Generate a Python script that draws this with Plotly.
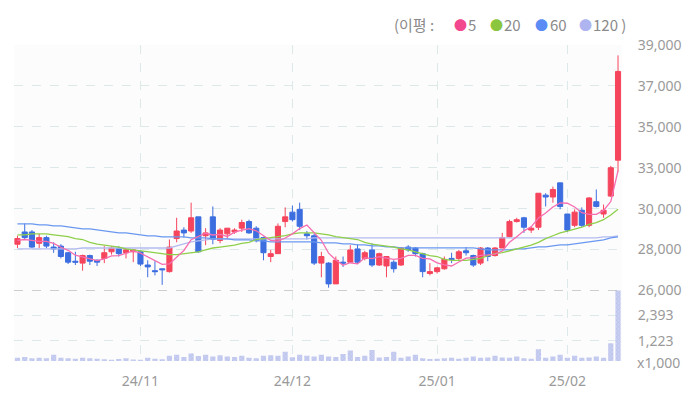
import plotly.graph_objects as go

# ---------------- data ----------------
idx = list(range(84))

opens = [28450, 29100, 29100, 28500, 28800, 28300, 28350, 28000, 27550, 27450,
         27850, 27600, 27700, 28050, 28250, 28000, 28050, 28050, 27350, 27050,
         27150, 27000, 28750, 29200, 29150, 29900, 28900, 29900, 28650, 29000,
         29100, 29300, 29650, 29300, 28800, 27800, 27950, 29650, 30150, 30300,
         29000, 28900, 27450, 27450, 26350, 27500, 27500, 28200, 27700, 28150,
         27350, 27300, 27500, 27350, 28300, 28250, 27950, 26900, 27000, 27150,
         27700, 27700, 28100, 27850, 27450, 28250, 27850, 28250, 28850, 29650,
         29850, 29200, 29350, 31050, 30950, 31700, 30050, 29450, 30250, 29450,
         30700, 30050, 31000, 32900]

highs = [28900, 29550, 29200, 29000, 28900, 28550, 28450, 28050, 28050, 27900,
         27900, 27650, 28350, 28350, 28350, 28250, 28200, 28100, 27600, 27550,
         27150, 28700, 29850, 29350, 30650, 29900, 29300, 30450, 29300, 29300,
         29300, 29750, 29750, 29400, 28850, 28150, 29550, 30400, 30500, 30650,
         29150, 29000, 28050, 27500, 27800, 27800, 28400, 28450, 28100, 28500,
         28000, 27800, 27600, 28300, 28400, 28300, 28000, 27450, 27250, 27800,
         28000, 28150, 28300, 27900, 28300, 28300, 28300, 29050, 29750, 29850,
         29900, 29400, 31150, 31150, 31500, 31700, 30050, 30300, 30400, 30950,
         31350, 30550, 32600, 38450]

lows = [28250, 28700, 28250, 28250, 28250, 28000, 27700, 27400, 27350, 27050,
        27350, 27300, 27450, 27900, 27800, 27700, 27500, 27300, 26700, 26800,
        26300, 26950, 28550, 28800, 29050, 28000, 28400, 28450, 28500, 28700,
        29000, 29100, 29000, 28550, 27600, 27500, 27950, 29350, 29650, 29200,
        28700, 27350, 26700, 26150, 26350, 27250, 27450, 27400, 27600, 27250,
        27300, 26700, 26950, 27300, 28050, 27800, 26700, 26800, 26900, 27100,
        27450, 27600, 27850, 27250, 27350, 27550, 27800, 28250, 28800, 29600,
        29050, 29050, 29200, 30450, 30650, 30300, 29100, 29350, 29350, 29350,
        30400, 29850, 30950, 32300]

closes = [28750, 28800, 28300, 28800, 28350, 28200, 27800, 27500, 27500, 27850,
          27550, 27500, 28000, 28250, 27950, 28150, 28150, 27400, 27250, 27000,
          27100, 28300, 29150, 29050, 29850, 28050, 29050, 28700, 29200, 29300,
          29200, 29600, 29050, 28650, 28000, 27950, 29400, 29900, 29750, 29400,
          28900, 27450, 27800, 26350, 27600, 27450, 28150, 27500, 28000, 27350,
          27950, 27800, 27150, 28250, 28150, 27950, 27000, 27000, 27200, 27650,
          27650, 28050, 28000, 27350, 28250, 27800, 28250, 28800, 29650, 29750,
          29350, 29300, 31150, 30950, 31350, 30450, 29200, 30150, 29450, 30900,
          30450, 30250, 32500, 37600]

volumes = [420, 460, 400, 420, 400, 560, 420, 400, 380, 420,
           400, 380, 350, 330, 360, 400, 340, 330, 420, 380,
           350, 520, 560, 460, 620, 500, 560, 480, 540, 480,
           460, 520, 420, 400, 520, 540, 520, 700, 450, 560,
           520, 480, 560, 480, 460, 600, 760, 460, 520, 780,
           440, 460, 700, 420, 480, 560, 400, 360, 380, 400,
           420, 380, 420, 480, 420, 440, 520, 440, 420, 480,
           400, 380, 820, 420, 480, 560, 420, 520, 420, 440,
           480, 420, 1100, 26000]

ma5 = [28650, 28700, 28650, 28600, 28600, 28490, 28290, 28130, 27870, 27770,
       27640, 27580, 27680, 27830, 27850, 27970, 28100, 27980, 27780, 27590,
       27380, 27410, 27760, 28120, 28690, 28880, 29030, 28940, 28970, 28860,
       29090, 29200, 29270, 29160, 28900, 28650, 28610, 28780, 29000, 29280,
       29470, 29080, 28660, 27980, 27620, 27330, 27470, 27410, 27740, 27690,
       27790, 27720, 27650, 27700, 27860, 27860, 27700, 27670, 27460, 27360,
       27300, 27510, 27710, 27740, 27860, 27890, 27930, 28090, 28550, 28850,
       29160, 29370, 29840, 30100, 30420, 30640, 30620, 30420, 30120, 30030,
       30030, 30240, 30710, 32340]

ma20 = [28950, 28950, 29000, 29000, 29000, 28950, 28900, 28850, 28750, 28700,
        28550, 28450, 28400, 28350, 28300, 28200, 28150, 28100, 28050, 28000,
        27950, 27900, 27900, 27950, 28000, 28050, 28150, 28250, 28300, 28350,
        28400, 28500, 28550, 28700, 28750, 28800, 28850, 28900, 29000, 29050,
        29050, 29050, 29000, 28950, 28850, 28800, 28750, 28700, 28550, 28450,
        28400, 28350, 28300, 28200, 28150, 28050, 27950, 27850, 27800, 27650,
        27600, 27600, 27600, 27650, 27700, 27850, 27950, 28000, 28100, 28200,
        28300, 28400, 28550, 28750, 28900, 29050, 29150, 29250, 29350, 29500,
        29600, 29750, 30000, 30300]

ma60 = [29530, 29530, 29530, 29480, 29480, 29420, 29420, 29370, 29320, 29260,
        29260, 29210, 29160, 29100, 29050, 29050, 29000, 28950, 28890, 28890,
        28840, 28840, 28840, 28840, 28790, 28790, 28790, 28730, 28730, 28730,
        28680, 28680, 28680, 28630, 28630, 28570, 28570, 28570, 28570, 28570,
        28570, 28570, 28520, 28520, 28520, 28470, 28470, 28420, 28420, 28360,
        28360, 28310, 28310, 28260, 28260, 28260, 28260, 28260, 28260, 28260,
        28260, 28260, 28260, 28260, 28200, 28150, 28150, 28150, 28150, 28200,
        28200, 28260, 28310, 28310, 28360, 28420, 28420, 28470, 28520, 28570,
        28630, 28680, 28790, 28840]

ma120 = [28200, 28200, 28200, 28200, 28200, 28200, 28200, 28200, 28200, 28250,
         28250, 28250, 28250, 28250, 28250, 28250, 28250, 28250, 28250, 28250,
         28250, 28250, 28360, 28470, 28570, 28630, 28680, 28730, 28730, 28730,
         28730, 28730, 28730, 28730, 28730, 28730, 28730, 28730, 28730, 28730,
         28730, 28790, 28790, 28790, 28790, 28790, 28790, 28790, 28790, 28790,
         28790, 28790, 28790, 28790, 28790, 28790, 28790, 28790, 28790, 28790,
         28790, 28790, 28790, 28790, 28790, 28790, 28790, 28790, 28790, 28790,
         28790, 28790, 28790, 28790, 28790, 28790, 28790, 28790, 28790, 28790,
         28790, 28840, 28840, 28890]

month_tick_idx = [17, 38, 58, 76]
month_labels = ["24/11", "24/12", "25/01", "25/02"]

price_tick_vals = [26000, 28166.7, 30333.3, 32500, 34666.7, 36833.3, 39000]
price_tick_text = ["26,000", "28,000", "30,000", "33,000", "35,000", "37,000", "39,000"]

vol_tick_vals = [1223, 2393]
vol_tick_text = ["1,223", "2,393"]

# ---------------- styling ----------------
RED = "#f5455c"
BLUE = "#3c6ee0"
C5, C20, C60, C120 = "#f66db0", "#8fcf4a", "#6a98f0", "#b3baf0"
GRID = "#dde8e8"
TXT = "#9a9a9a"
FONT = "Noto Sans, Noto Sans CJK KR, sans-serif"

W, H = 700, 393
L, R, T, B = 14, 78, 45, 32
PW, PH = W - L - R, H - T - B
split = (H - B - 290.5) / PH


def px(x):
    return (x - L) / PW


def py(y):
    return (H - B - y) / PH


fig = go.Figure()

for ma, col in [(ma120, C120), (ma60, C60), (ma20, C20), (ma5, C5)]:
    fig.add_trace(go.Scatter(x=idx, y=ma, mode="lines", line=dict(color=col, width=1.3),
                             xaxis="x", yaxis="y", hoverinfo="skip"))

fig.add_trace(go.Candlestick(
    x=idx, open=opens, high=highs, low=lows, close=closes,
    increasing=dict(line=dict(color=RED, width=1), fillcolor=RED),
    decreasing=dict(line=dict(color=BLUE, width=1), fillcolor=BLUE),
    whiskerwidth=0, xaxis="x", yaxis="y"))

fig.add_trace(go.Bar(
    x=idx, y=volumes, xaxis="x", yaxis="y2", width=0.72,
    marker=dict(color="#c9cff1", line=dict(width=0),
                pattern=dict(shape="x", fgcolor="#a3ade2", size=3, solidity=0.35))))

fig.update_layout(
    width=W, height=H, margin=dict(l=L, r=R, t=T, b=B, autoexpand=False),
    paper_bgcolor="white", plot_bgcolor="#fcfcfc",
    boxgap=0.16, boxgroupgap=0.16,
    showlegend=False, font=dict(family=FONT, size=14, color=TXT),
    xaxis=dict(range=[-0.48, 83.55], tickvals=month_tick_idx, ticktext=month_labels,
               showgrid=True, gridcolor=GRID, griddash="dash", gridwidth=1,
               zeroline=False, showline=False, anchor="y2", automargin=False,
               ticks="outside", ticklen=7, tickcolor="rgba(0,0,0,0)",
               tickfont=dict(size=14, color=TXT), rangeslider=dict(visible=False)),
    yaxis=dict(domain=[split, 1], range=[26000, 39000], side="right", automargin=False,
               tickvals=price_tick_vals, ticktext=price_tick_text,
               showgrid=True, gridcolor=GRID, griddash="dash", zeroline=False,
               ticks="outside", ticklen=12, tickcolor="rgba(0,0,0,0)",
               tickfont=dict(size=14, color=TXT)),
    yaxis2=dict(domain=[0, split], range=[271, 3561], side="right", automargin=False,
                tickvals=vol_tick_vals, ticktext=vol_tick_text,
                showgrid=True, gridcolor=GRID, griddash="dash", zeroline=False,
                ticks="outside", ticklen=12, tickcolor="rgba(0,0,0,0)",
                tickfont=dict(size=14, color=TXT)),
)

fig.add_shape(type="line", xref="paper", yref="y", x0=0, x1=1, y0=26000, y1=26000,
              line=dict(color="#a0a0a0", width=1, dash="dash"))

fig.add_annotation(text="x1,000", xref="paper", yref="paper", x=px(635), y=py(362),
                   xanchor="left", yanchor="middle", showarrow=False,
                   font=dict(size=14, color=TXT, family=FONT))

# legend row
ly = py(24)
items = [("(이평 :", 392, None, 15), ("●", 452, "#f2468e", 13), ("5", 466, None, 15),
         ("●", 488, "#8cc63e", 13), ("20", 502, None, 15), ("●", 533, "#5b8cf5", 13),
         ("60", 548, None, 15), ("●", 577, "#aeb4f0", 13), ("120 )", 591, None, 15)]
for txt, xx, col, fs in items:
    fig.add_annotation(text=txt, xref="paper", yref="paper", x=px(xx), y=ly,
                       xanchor="left", yanchor="middle", showarrow=False,
                       font=dict(size=fs, color=col or "#8a8a8a",
                                 family="Noto Sans CJK KR, Noto Sans, sans-serif"))

fig.write_html(
    "out.html",
    config={"displayModeBar": False},
    post_script="document.body.style.margin='0';document.body.style.padding='0';"
                "document.body.style.overflow='hidden';",
)
